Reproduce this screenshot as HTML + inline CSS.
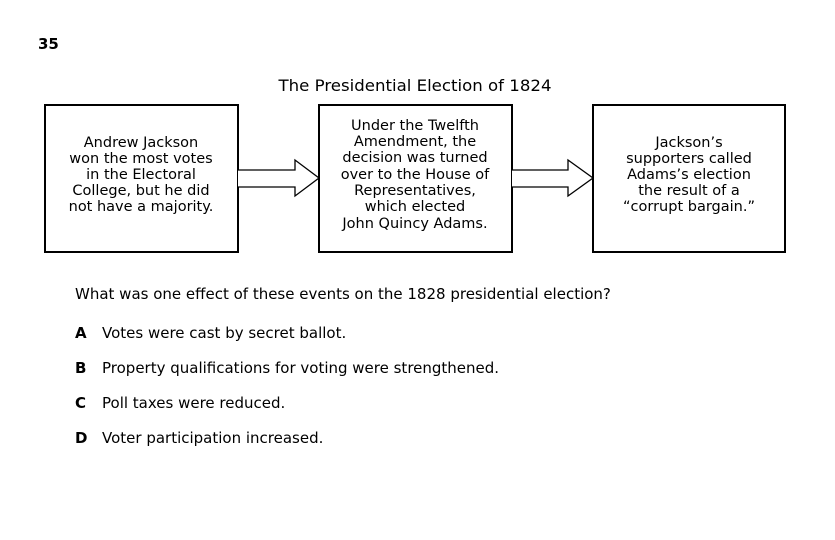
<!DOCTYPE html>
<html><head><style>
body{margin:0;background:#fff}
svg text{font-family:"DejaVu Sans","Liberation Sans",sans-serif;fill:#000}
</style></head><body>
<svg width="835" height="535" viewBox="0 0 835 535" xmlns="http://www.w3.org/2000/svg">
<text x="38" y="49" font-size="15" font-weight="bold">35</text>
<text x="415" y="91" font-size="16" text-anchor="middle" textLength="273" lengthAdjust="spacingAndGlyphs">The Presidential Election of 1824</text>
<g fill="none" stroke="#000" stroke-width="2">
<rect x="45" y="105" width="193" height="147"/>
<rect x="319" y="105" width="193" height="147"/>
<rect x="593" y="105" width="192" height="147"/>
</g>
<g fill="#fff" stroke="#000" stroke-width="1.3">
<path d="M238 170 H295 V160 L319 178 L295 196 V187 H238"/>
<path d="M512 170 H568 V160 L593 178 L568 196 V187 H512"/>
</g>
<g font-size="14.5" text-anchor="middle">
<text x="141" y="147">Andrew Jackson</text>
<text x="141" y="163">won the most votes</text>
<text x="141" y="179">in the Electoral</text>
<text x="141" y="195">College, but he did</text>
<text x="141" y="211">not have a majority.</text>
<text x="415" y="130">Under the Twelfth</text>
<text x="415" y="146">Amendment, the</text>
<text x="415" y="162">decision was turned</text>
<text x="415" y="179">over to the House of</text>
<text x="415" y="195">Representatives,</text>
<text x="415" y="211">which elected</text>
<text x="415" y="228">John Quincy Adams.</text>
<text x="689" y="147">Jackson’s</text>
<text x="689" y="163">supporters called</text>
<text x="689" y="179">Adams’s election</text>
<text x="689" y="195">the result of a</text>
<text x="689" y="211">“corrupt bargain.”</text>
</g>
<g font-size="15">
<text x="75" y="299">What was one effect of these events on the 1828 presidential election?</text>
<text x="75" y="338" font-weight="bold">A</text><text x="102" y="338">Votes were cast by secret ballot.</text>
<text x="75" y="373" font-weight="bold">B</text><text x="102" y="373">Property qualifications for voting were strengthened.</text>
<text x="75" y="408" font-weight="bold">C</text><text x="102" y="408">Poll taxes were reduced.</text>
<text x="75" y="443" font-weight="bold">D</text><text x="102" y="443">Voter participation increased.</text>
</g>
</svg>
</body></html>
